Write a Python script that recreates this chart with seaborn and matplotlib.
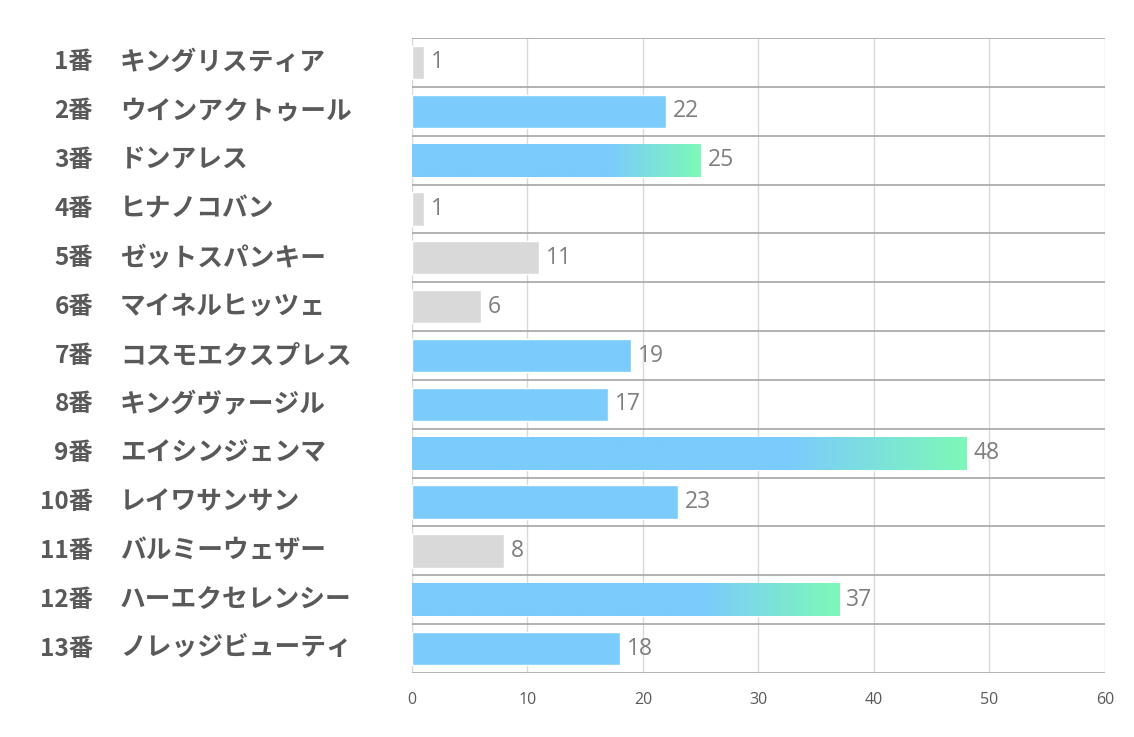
import numpy as np
import pandas as pd
import matplotlib
matplotlib.use("Agg")
import matplotlib.pyplot as plt
import matplotlib.transforms as mtransforms
from matplotlib.colors import LinearSegmentedColormap
import seaborn as sns

# ── Data ──────────────────────────────────────────────────────────────────────

numbers = ["1番", "2番", "3番", "4番", "5番", "6番", "7番",
           "8番", "9番", "10番", "11番", "12番", "13番"]
names = ["キングリスティア", "ウインアクトゥール", "ドンアレス", "ヒナノコバン",
         "ゼットスパンキー", "マイネルヒッツェ", "コスモエクスプレス",
         "キングヴァージル", "エイシンジェンマ", "レイワサンサン",
         "バルミーウェザー", "ハーエクセレンシー", "ノレッジビューティ"]
values = [1, 22, 25, 1, 11, 6, 19, 17, 48, 23, 8, 37, 18]
groups = ["low", "mid", "top", "low", "low", "low", "mid",
          "mid", "top", "mid", "low", "top", "mid"]
x_ticks = [0, 10, 20, 30, 40, 50, 60]

# ── Style ─────────────────────────────────────────────────────────────────────

BLUE  = "#7BCBFD"
GREEN = "#7DF8B8"
GRAY  = "#D9D9D9"
TEXT  = "#595959"

sns.set_style("white")
plt.rcParams["font.family"] = ["Noto Sans CJK JP", "DejaVu Sans"]

df = pd.DataFrame({"label": [f"{n} {m}" for n, m in zip(numbers, names)],
                   "value": values, "group": groups})

fig = plt.figure(figsize=(11.34, 7.37), dpi=100)
ax = fig.add_axes([0.3633, 0.0868, 0.9744 - 0.3633, 0.9484 - 0.0868])

palette = {"low": GRAY, "mid": BLUE, "top": BLUE}
sns.barplot(data=df, x="value", y="label", hue="group", palette=palette,
            dodge=False, legend=False, width=0.68, ax=ax, saturation=1,
            zorder=3)

ax.set_xlim(0, 60)
ax.set_ylim(len(values) - 0.5, -0.5)
ax.set_xticks(x_ticks)
ax.set_xticklabels([str(t) for t in x_ticks], fontsize=11.5, color=TEXT,
                   family=["Open Sans", "DejaVu Sans"])
ax.tick_params(axis="x", length=0, pad=14)
ax.set_yticks([])
ax.set_xlabel("")
ax.set_ylabel("")
for s in ax.spines.values():
    s.set_visible(False)

# grid
for t in x_ticks:
    ax.axvline(t, color="#D9D9D9", lw=1, zorder=1)
for i in range(len(values) + 1):
    ax.axhline(i - 0.5, color="#A6A6A6", lw=1.2, zorder=2)

# gradient on the top three bars (blue, fading to green over the last ~30%)
grad = np.linspace(0, 1, 256).reshape(1, -1)
grad = np.clip((grad - 0.68) / 0.32, 0, 1)
cmap = LinearSegmentedColormap.from_list("bg", [BLUE, GREEN])
for patch in ax.patches:
    y0 = patch.get_y()
    h = patch.get_height()
    w = patch.get_width()
    idx = int(round(y0 + h / 2))
    if 0 <= idx < len(values) and groups[idx] == "top":
        im = ax.imshow(grad, cmap=cmap, aspect="auto",
                       extent=[0, w, y0 + h, y0], zorder=4, vmin=0, vmax=1)
        im.set_clip_path(patch)
ax.set_xlim(0, 60)
ax.set_ylim(len(values) - 0.5, -0.5)

# value labels
for i, v in enumerate(values):
    ax.text(v + 0.6, i, str(v), va="center", ha="left", fontsize=16.5,
            color="#7F7F7F", family=["Open Sans", "DejaVu Sans"], zorder=5)

# row labels on the left
trans = mtransforms.blended_transform_factory(fig.transFigure, ax.transData)
for i, (n, m) in enumerate(zip(numbers, names)):
    ax.text(93 / 1134, i, n, ha="right", va="center", fontsize=17.5,
            fontweight="bold", color=TEXT, transform=trans, clip_on=False)
    ax.text(120 / 1134, i, m, ha="left", va="center", fontsize=18.5,
            fontweight="bold", color=TEXT, transform=trans, clip_on=False)

fig.savefig("out.png", dpi=100)
